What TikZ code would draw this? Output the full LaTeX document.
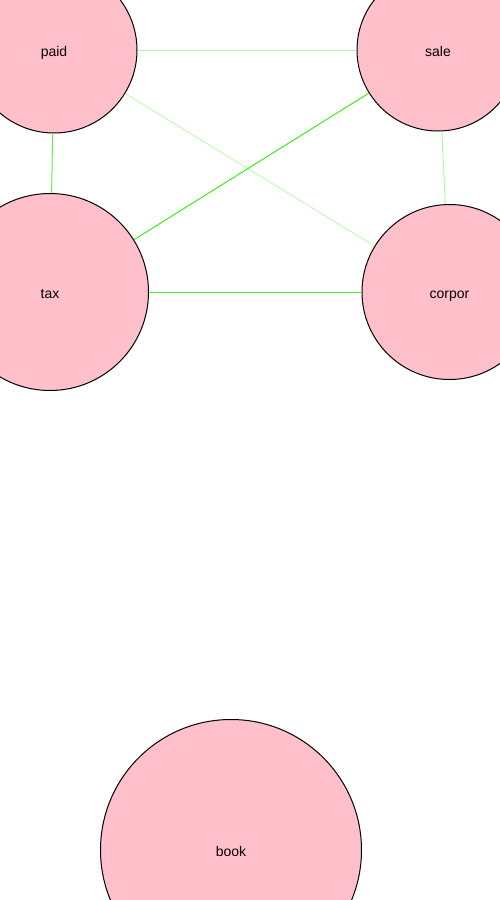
\documentclass[tikz,border=0pt]{standalone}
\usepackage{fontspec}
\setmainfont{Liberation Sans}
\usetikzlibrary{positioning}
\definecolor{nodepink}{RGB}{255,192,203}
\definecolor{edgegreen}{RGB}{60,240,20}

\begin{document}
\begin{tikzpicture}[x=0.75pt,y=-0.75pt,
    word/.style={circle,draw=black,fill=nodepink,inner sep=0pt,line width=0.75pt,
        text height=12pt,text depth=2pt,font=\fontsize{10.5}{12}\selectfont},
    link/.style={draw=edgegreen,line width=0.75pt}]
    \useasboundingbox (0,0) rectangle (500,900);
    \clip (0,0) rectangle (500,900);

    \node[word,minimum size=124.5pt] (paid) at (54,50) {paid};
    \node[word,minimum size=121.5pt] (sale) at (438,50) {sale};
    \node[word,minimum size=147.75pt] (tax) at (50,292) {tax};
    \node[word,minimum size=131.25pt] (corpor) at (449.5,292) {corpor};
    \node[word,minimum size=195.75pt] (book) at (231,850) {book};

    \draw[link,opacity=0.4] (paid) -- (sale);
    \draw[link,opacity=0.8] (paid) -- (tax);
    \draw[link,opacity=0.3] (paid) -- (corpor);
    \draw[link,opacity=1.0] (sale) -- (tax);
    \draw[link,opacity=0.4] (sale) -- (corpor);
    \draw[link,opacity=0.9] (tax) -- (corpor);
\end{tikzpicture}
\end{document}
